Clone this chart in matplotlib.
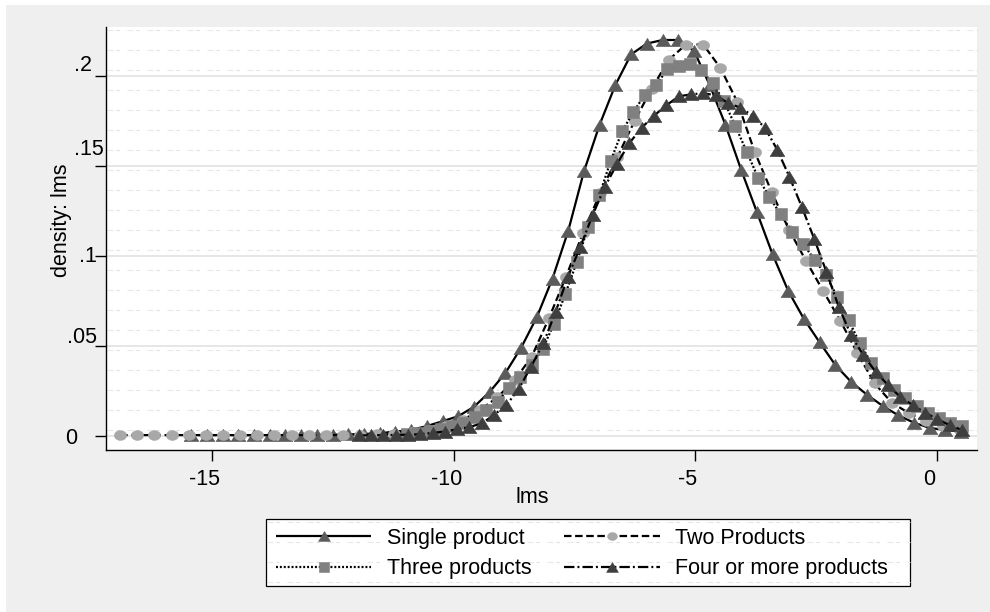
import numpy as np
import matplotlib
matplotlib.use("Agg")
import matplotlib.pyplot as plt
from matplotlib.path import Path
from matplotlib.patches import Rectangle
from matplotlib.lines import Line2D
from matplotlib.transforms import Affine2D

plt.rcParams['font.family'] = ['Liberation Sans', 'DejaVu Sans']
plt.rcParams['lines.scale_dashes'] = False
plt.rcParams['axes.unicode_minus'] = False

# ---------------------------------------------------------------------------
# Kernel density estimates of lms by number of products (50 points each)
# ---------------------------------------------------------------------------
series_names = ["Single product", "Two Products", "Three products",
                "Four or more products"]

# evaluation range (first point, last point) of each density
single_grid = (-15.44, 0.505)
two_grid = (-16.91, 0.49)
three_grid = (-10.97, 0.52)
four_grid = (-11.97, 0.52)

single_density = [
    0.0005, 0.0005, 0.0005, 0.0005, 0.0005, 0.0005, 0.0005, 0.0005,
    0.0006, 0.0007, 0.0009, 0.0011, 0.0016, 0.0024, 0.0034, 0.0055,
    0.0082, 0.0110, 0.0162, 0.0245, 0.0350, 0.0490, 0.0660, 0.0875,
    0.1140, 0.1470, 0.1730, 0.1950, 0.2120, 0.2180, 0.2200, 0.2200,
    0.2140, 0.1950, 0.1730, 0.1480, 0.1245, 0.1010, 0.0806, 0.0650,
    0.0520, 0.0394, 0.0301, 0.0230, 0.0168, 0.0115, 0.0074, 0.0045,
    0.0033, 0.0024]

two_density = [
    0.0005, 0.0005, 0.0005, 0.0005, 0.0005, 0.0005, 0.0005, 0.0005,
    0.0005, 0.0005, 0.0005, 0.0005, 0.0005, 0.0006, 0.0007, 0.0009,
    0.0013, 0.0022, 0.0035, 0.0055, 0.0090, 0.0145, 0.0215, 0.0310,
    0.0440, 0.0653, 0.0884, 0.1130, 0.1350, 0.1550, 0.1750, 0.1930,
    0.2090, 0.2175, 0.2175, 0.2046, 0.1855, 0.1580, 0.1355, 0.1147,
    0.0973, 0.0806, 0.0640, 0.0460, 0.0292, 0.0185, 0.0127, 0.0081,
    0.0053, 0.0035]

three_density = [
    0.0013, 0.0019, 0.0027, 0.0038, 0.0053, 0.0070, 0.0107, 0.0144,
    0.0190, 0.0265, 0.0330, 0.0394, 0.0486, 0.0625, 0.0791, 0.0967,
    0.1160, 0.1340, 0.1530, 0.1693, 0.1800, 0.1896, 0.1950, 0.2037,
    0.2056, 0.2064, 0.2032, 0.1959, 0.1860, 0.1722, 0.1580, 0.1436,
    0.1328, 0.1232, 0.1134, 0.1065, 0.0980, 0.0893, 0.0773, 0.0644,
    0.0514, 0.0407, 0.0320, 0.0255, 0.0210, 0.0166, 0.0127, 0.0099,
    0.0074, 0.0055]

four_density = [
    0.0003, 0.0004, 0.0005, 0.0006, 0.0007, 0.0010, 0.0017, 0.0025,
    0.0037, 0.0050, 0.0070, 0.0117, 0.0172, 0.0260, 0.0385, 0.0514,
    0.0690, 0.0884, 0.1050, 0.1226, 0.1384, 0.1513, 0.1628, 0.1713,
    0.1780, 0.1837, 0.1887, 0.1898, 0.1905, 0.1892, 0.1850, 0.1824,
    0.1780, 0.1713, 0.1591, 0.1439, 0.1273, 0.1097, 0.0912, 0.0718,
    0.0560, 0.0449, 0.0357, 0.0283, 0.0218, 0.0172, 0.0130, 0.0093,
    0.0061, 0.0033]

x_ticks = [-15, -10, -5, 0]
x_tick_labels = ["-15", "-10", "-5", "0"]
y_ticks = [0, 0.05, 0.1, 0.15, 0.2]
y_tick_labels = ["0", ".05", ".1", ".15", ".2"]

# ---------------------------------------------------------------------------
# Layout (pixels, origin at top-left of a 990 x 612 canvas)
# ---------------------------------------------------------------------------
W, H = 990, 612
PLOT_L, PLOT_R, PLOT_T, PLOT_B = 106, 977, 27, 450
LEG_L, LEG_R, LEG_T, LEG_B = 266, 910, 519, 586
FS = 15.5

# y tick label placement: (right edge x, baseline y) for each label
y_label_pos = [(77.3, 444), (96.7, 343), (97.0, 262), (104.0, 155), (91.7, 71)]
x_label_dx, x_label_base = -7.5, 485


def fx(px):
    return px / W


def fy(py):
    return 1 - py / H


fig = plt.figure(figsize=(W / 100, H / 100), dpi=100, facecolor="white")
px_trans = Affine2D().scale(1, -1).translate(0, H)   # canvas pixels -> display

fig.add_artist(Rectangle((fx(6), 0), 1 - fx(6), fy(5), transform=fig.transFigure,
                         facecolor="#efefef", edgecolor="none", zorder=-10))

ax = fig.add_axes([fx(PLOT_L), fy(PLOT_B), (PLOT_R - PLOT_L) / W,
                   (PLOT_B - PLOT_T) / H])
ax.set_facecolor("white")


def pattern_rows(target, x0, x1, y0, y1, zorder):
    """Faint dashed background rows every 20 px inside a white panel."""
    for y in np.arange(y0 + 2.5, y1 - 1, 20):
        long_seg = Line2D([x0 + 1, x1], [y, y], transform=px_trans,
                          color="#e9e9e9", lw=0.8,
                          linestyle=(0, (4.3, 10.1)), zorder=zorder)
        short_seg = Line2D([x0 + 1, x1], [y, y], transform=px_trans,
                           color="#dedede", lw=0.8,
                           linestyle=(-6.5, (2.2, 12.2)), zorder=zorder)
        for seg in (long_seg, short_seg):
            seg.set_clip_on(False)
            if target is fig:
                fig.add_artist(seg)
            else:
                target.add_line(seg)


pattern_rows(ax, PLOT_L, PLOT_R, PLOT_T, PLOT_B, 0.2)

# marker shapes
tri = Path([(0, 0.83), (-1, -0.83), (1, -0.83), (0, 0.83)],
           [Path.MOVETO, Path.LINETO, Path.LINETO, Path.CLOSEPOLY])
t = np.linspace(0, 2 * np.pi, 41)
ell = Path(np.column_stack([np.cos(t), 0.8 * np.sin(t)]), closed=True)

styles = [
    dict(ls="-", marker=tri, ms=10.6, mfc="#5b5b5b"),
    dict(ls=(0, (5.4, 2.6)), marker=ell, ms=8.8, mfc="#a8a8a8"),
    dict(ls=(0, (1.4, 1.4)), marker="s", ms=8.2, mfc="#808080"),
    dict(ls=(0, (7.5, 2.2, 1.4, 2.2)), marker=tri, ms=10.6, mfc="#3e3e3e"),
]
grids = [single_grid, two_grid, three_grid, four_grid]
densities = [single_density, two_density, three_density, four_density]

handles = []
for name, grid, dens, st in zip(series_names, grids, densities, styles):
    xs = np.linspace(grid[0], grid[1], len(dens))
    (ln,) = ax.plot(xs, dens, color="black", lw=1.6, linestyle=st["ls"],
                    marker=st["marker"], markersize=st["ms"],
                    markerfacecolor=st["mfc"], markeredgecolor=st["mfc"],
                    markeredgewidth=0.4, label=name, zorder=3,
                    solid_capstyle="butt", dash_capstyle="butt")
    handles.append(ln)

ax.set_xlim((PLOT_L - 936.7) / 48.29, (PLOT_R - 936.7) / 48.29)
ax.set_ylim((436 - PLOT_B) / 1800, (436 - PLOT_T) / 1800)

for side in ("top", "right"):
    ax.spines[side].set_visible(False)
for side in ("left", "bottom"):
    ax.spines[side].set_linewidth(1.0)
    ax.spines[side].set_color("black")

ax.set_xticks(x_ticks)
ax.set_yticks(y_ticks)
ax.tick_params(axis="both", direction="out", length=8, width=1.0,
               color="black", labelbottom=False, labelleft=False)
ax.yaxis.grid(True, color="#e2e2e2", lw=1.2)
ax.xaxis.grid(False)
ax.set_axisbelow(True)

for val, lab in zip(x_ticks, x_tick_labels):
    ax.annotate(lab, xy=(val, 0), xycoords=("data", "axes fraction"),
                xytext=(x_label_dx, -(x_label_base - PLOT_B)),
                textcoords="offset pixels", ha="center", va="baseline",
                fontsize=FS, annotation_clip=False)

for val, lab, (xr, yb) in zip(y_ticks, y_tick_labels, y_label_pos):
    tick_px = 436 - val * 1800
    ax.annotate(lab, xy=(0, val), xycoords=("axes fraction", "data"),
                xytext=(xr - PLOT_L, -(yb - tick_px)),
                textcoords="offset pixels", ha="right", va="baseline",
                fontsize=FS, annotation_clip=False)

fig.text(fx(61), fy(220), "density: lms", rotation=90, ha="center",
         va="center", fontsize=FS)
fig.text(fx(532), fy(503), "lms", ha="center", va="baseline", fontsize=FS)

# legend panel
fig.add_artist(Rectangle((LEG_L, LEG_T), LEG_R - LEG_L, LEG_B - LEG_T,
                         transform=px_trans, facecolor="white",
                         edgecolor="black", lw=0.9, zorder=3))
pattern_rows(fig, LEG_L, LEG_R, LEG_T, LEG_B, 3.5)

order = [0, 2, 1, 3]
leg = fig.legend([handles[i] for i in order], [series_names[i] for i in order],
                 loc="upper left", bbox_to_anchor=(fx(276), fy(528)),
                 ncol=2, frameon=False, fontsize=FS, handlelength=4.42,
                 handletextpad=0.73, columnspacing=1.53, labelspacing=0.42,
                 borderpad=0, borderaxespad=0, numpoints=1, markerscale=0.8)
leg.set_zorder(5)

fig.savefig("out.png", dpi=100, facecolor=fig.get_facecolor())
